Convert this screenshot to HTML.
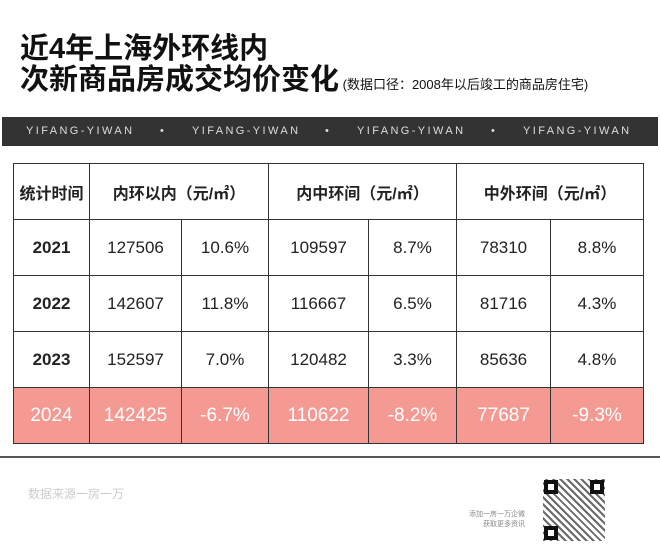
<!DOCTYPE html>
<html><head><meta charset="utf-8"><style>
*{margin:0;padding:0;box-sizing:border-box}
body{width:660px;height:550px;background:#fff;position:relative;overflow:hidden;font-family:"Liberation Sans","Noto Sans CJK SC",sans-serif;color:#111}
.t{position:absolute;left:20px;font-size:29px;font-weight:bold;line-height:30px;letter-spacing:0px}
.sub{font-size:13px;font-weight:normal}
.band{position:absolute;left:2px;top:117px;width:656px;height:29px;background:#333;color:#ddd;font-size:11px;letter-spacing:2.4px;line-height:29px}
.band span{position:absolute}
table{position:absolute;left:13px;top:163px;border-collapse:collapse;table-layout:fixed}
td{border:1.5px solid #333;text-align:center;font-size:17px;color:#222}
.h td{height:56px;font-size:16px;font-weight:bold}
.r td{height:56px}
.y{font-weight:bold}
.p td{background:#f59a92;color:#fff;font-size:19px;height:56px}
</style></head><body>
<div class="t" style="top:34px">近4年上海外环线内</div>
<div class="t" style="top:65px">次新商品房成交均价变化<span class="sub"> (数据口径：2008年以后竣工的商品房住宅)</span></div>
<div class="band"><span style="left:24px">YIFANG-YIWAN</span><span style="left:158px">•</span><span style="left:190px">YIFANG-YIWAN</span><span style="left:323px">•</span><span style="left:355px">YIFANG-YIWAN</span><span style="left:489px">•</span><span style="left:521px">YIFANG-YIWAN</span></div>
<table>
<colgroup><col style="width:76px"><col style="width:92px"><col style="width:87px"><col style="width:100px"><col style="width:88px"><col style="width:94px"><col style="width:93px"></colgroup>
<tr class="h"><td>统计时间</td><td colspan="2">内环以内（元/㎡）</td><td colspan="2">内中环间（元/㎡）</td><td colspan="2">中外环间（元/㎡）</td></tr>
<tr class="r"><td class="y">2021</td><td>127506</td><td>10.6%</td><td>109597</td><td>8.7%</td><td>78310</td><td>8.8%</td></tr>
<tr class="r"><td class="y">2022</td><td>142607</td><td>11.8%</td><td>116667</td><td>6.5%</td><td>81716</td><td>4.3%</td></tr>
<tr class="r"><td class="y">2023</td><td>152597</td><td>7.0%</td><td>120482</td><td>3.3%</td><td>85636</td><td>4.8%</td></tr>
<tr class="p"><td>2024</td><td>142425</td><td>-6.7%</td><td>110622</td><td>-8.2%</td><td>77687</td><td>-9.3%</td></tr>
</table>
<div style="position:absolute;left:0;top:456px;width:660px;height:2px;background:#555"></div>
<div style="position:absolute;left:28px;top:485px;font-size:12px;color:#ccc">数据来源一房一万</div>
<div style="position:absolute;left:440px;top:510px;font-size:7px;color:#888;text-align:right;width:85px;line-height:10px">添加一房一万企微<br>获取更多资讯</div>
<div style="position:absolute;left:543px;top:479px;width:62px;height:62px;background:repeating-linear-gradient(45deg,#444 0 2px,#fff 2px 5px);opacity:.8"></div>
<div style="position:absolute;left:544px;top:480px;width:14px;height:14px;border:4px solid #111;background:#fff"></div>
<div style="position:absolute;left:590px;top:480px;width:14px;height:14px;border:4px solid #111;background:#fff"></div>
<div style="position:absolute;left:544px;top:526px;width:14px;height:14px;border:4px solid #111;background:#fff"></div>
</body></html>
